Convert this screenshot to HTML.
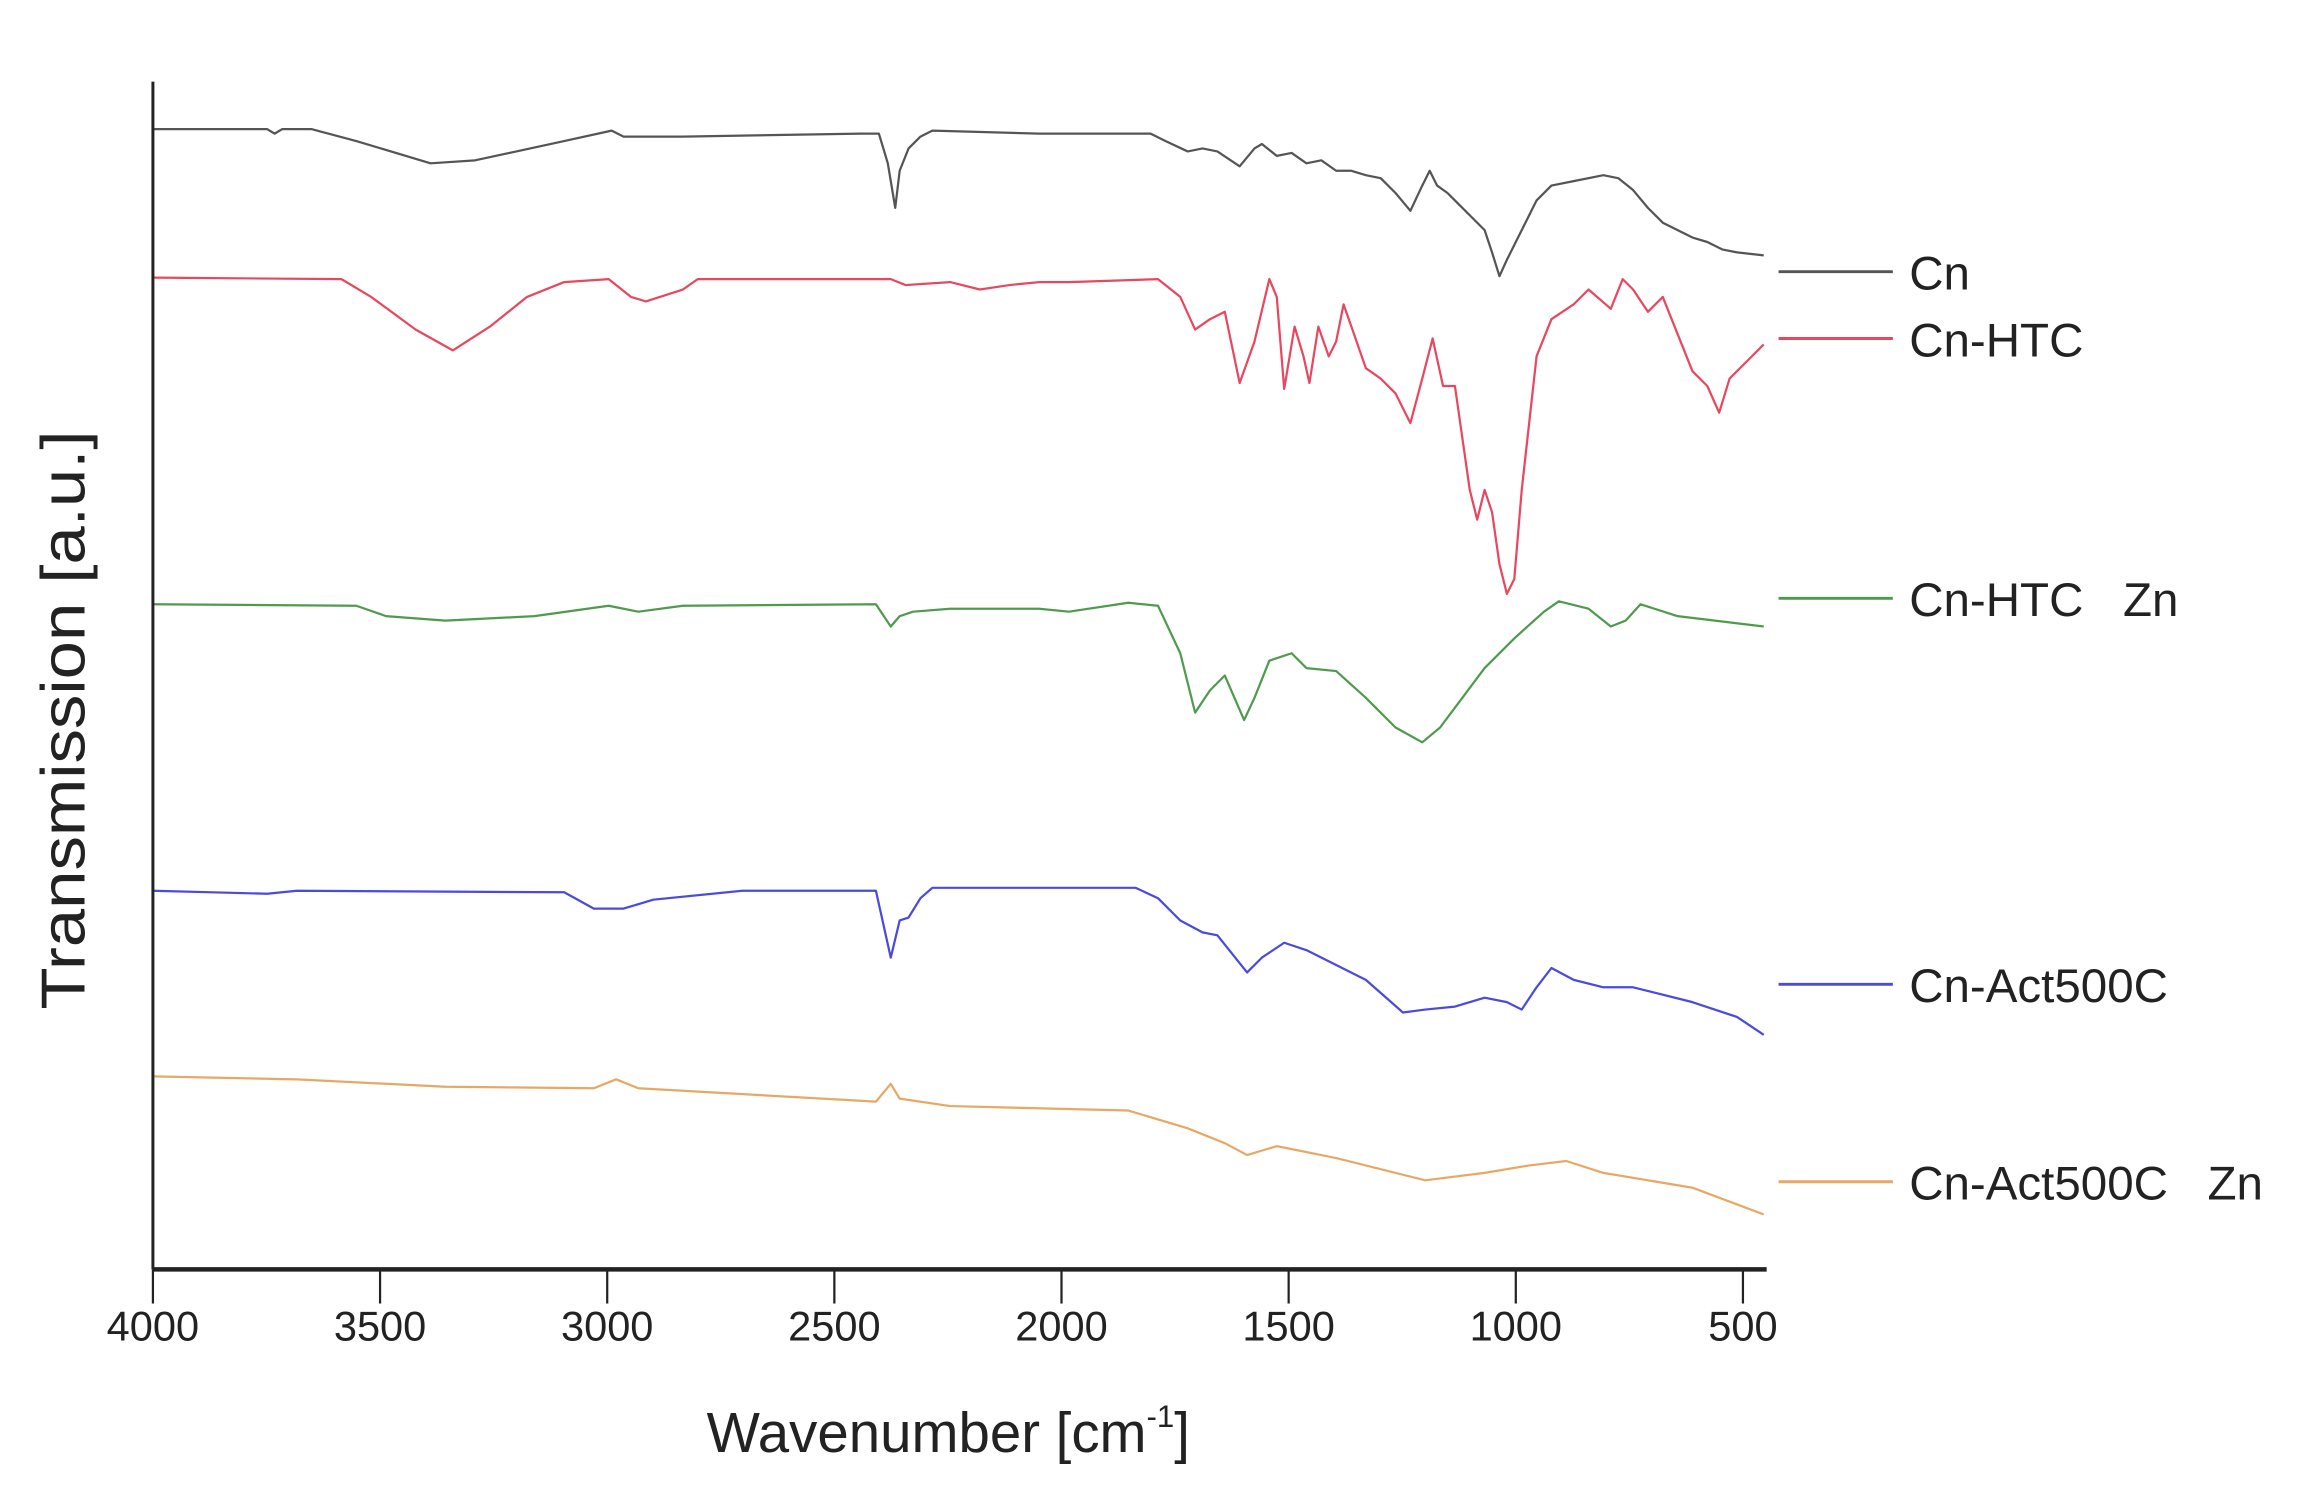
<!DOCTYPE html>
<html><head><meta charset="utf-8"><style>
html,body{margin:0;padding:0;background:#fff;}
svg{display:block;}
text{font-family:"Liberation Sans",Arial,sans-serif;fill:#222;}
</style></head><body>
<svg width="2316" height="1490" viewBox="0 0 1560 1003.6" preserveAspectRatio="none" xmlns="http://www.w3.org/2000/svg">
<rect width="1560" height="1004" fill="#fff"/>
<g fill="none" stroke-width="1.5" stroke-linejoin="round">
<polyline stroke="#555" points="103,87 180,87 185,90 190,87 210,87 240,95 290,110 320,108 380,95 412,88 420,92 460,92 580,90 592,90 598,110 603,140 606,115 612,100 620,92 628,88 700,90 775,90 785,95 800,102 810,100 820,102 835,112 845,100 850,97 860,105 870,103 880,110 890,108 900,115 910,115 920,118 930,120 940,130 950,142 958,125 963,115 968,125 975,130 980,135 990,145 1000,155 1005,170 1010,186 1015,175 1025,155 1035,135 1045,125 1060,122 1080,118 1090,120 1100,128 1110,140 1120,150 1130,155 1140,160 1150,163 1160,168 1170,170 1188,172"/>
<polyline stroke="#e8485f" points="103,187 230,188 250,200 280,222 305,236 330,220 355,200 380,190 410,188 425,200 435,203 460,195 470,188 600,188 610,192 640,190 660,195 680,192 700,190 720,190 780,188 795,200 805,222 815,215 825,210 835,258 845,230 855,188 860,200 865,262 872,220 878,240 882,258 888,220 895,240 900,230 905,205 912,225 920,248 930,255 940,265 950,285 958,255 965,228 972,260 980,260 990,330 995,350 1000,330 1005,345 1010,380 1015,400 1020,390 1025,330 1035,240 1045,215 1060,205 1070,195 1085,208 1093,188 1100,195 1110,210 1120,200 1130,225 1140,250 1150,260 1158,278 1165,255 1175,245 1188,232"/>
<polyline stroke="#4f9a4f" points="103,407 240,408 260,415 300,418 360,415 410,408 430,412 460,408 590,407 600,422 606,415 615,412 640,410 700,410 720,412 760,406 780,408 795,440 805,480 815,465 825,455 838,485 845,470 855,445 870,440 880,450 900,452 920,470 940,490 958,500 970,490 985,470 1000,450 1020,430 1040,412 1050,405 1070,410 1085,422 1095,418 1105,407 1130,415 1188,422"/>
<polyline stroke="#4a4ae0" points="103,600 180,602 200,600 380,601 400,612 420,612 440,606 500,600 590,600 600,645 606,620 612,618 620,605 628,598 765,598 780,605 795,620 810,628 820,630 840,655 850,645 865,635 880,640 900,650 920,660 945,682 960,680 980,678 1000,672 1015,675 1025,680 1035,665 1045,652 1060,660 1080,665 1100,665 1140,675 1170,685 1188,697"/>
<polyline stroke="#e8a865" points="103,725 200,727 300,732 400,733 415,727 430,733 590,742 600,730 606,740 640,745 760,748 800,760 825,770 840,778 860,772 900,780 960,795 1000,790 1030,785 1055,782 1080,790 1110,795 1140,800 1188,818"/>
</g>
<g stroke="#222" fill="none">
<line x1="103" y1="55" x2="103" y2="855" stroke-width="2"/>
<line x1="103" y1="855" x2="1190" y2="855" stroke-width="3"/>
<g stroke-width="1.5">
<line x1="103" y1="855" x2="103" y2="878"/><line x1="256" y1="855" x2="256" y2="878"/><line x1="409" y1="855" x2="409" y2="878"/><line x1="562" y1="855" x2="562" y2="878"/><line x1="715" y1="855" x2="715" y2="878"/><line x1="868" y1="855" x2="868" y2="878"/><line x1="1021" y1="855" x2="1021" y2="878"/><line x1="1174" y1="855" x2="1174" y2="878"/>
</g></g>
<g font-size="28" text-anchor="middle">
<text x="103" y="903">4000</text><text x="256" y="903">3500</text><text x="409" y="903">3000</text><text x="562" y="903">2500</text><text x="715" y="903">2000</text><text x="868" y="903">1500</text><text x="1021" y="903">1000</text><text x="1174" y="903">500</text>
</g>
<text x="476" y="978" font-size="38">Wavenumber [cm<tspan font-size="21" dy="-17">-1</tspan><tspan dy="17">]</tspan></text>
<text transform="translate(57,485) rotate(-90)" font-size="42" text-anchor="middle" textLength="390" lengthAdjust="spacingAndGlyphs">Transmission [a.u.]</text>
<g stroke-width="2">
<line x1="1198" y1="183" x2="1275" y2="183" stroke="#555"/>
<line x1="1198" y1="228" x2="1275" y2="228" stroke="#e8485f"/>
<line x1="1198" y1="403" x2="1275" y2="403" stroke="#4f9a4f"/>
<line x1="1198" y1="663" x2="1275" y2="663" stroke="#4a4ae0"/>
<line x1="1198" y1="796" x2="1275" y2="796" stroke="#e8a865"/>
</g>
<g font-size="32">
<text x="1286" y="195">Cn</text>
<text x="1286" y="240">Cn-HTC</text>
<text x="1286" y="415" xml:space="preserve">Cn-HTC   Zn</text>
<text x="1286" y="675">Cn-Act500C</text>
<text x="1286" y="808" xml:space="preserve">Cn-Act500C   Zn</text>
</g>
</svg>
</body></html>
